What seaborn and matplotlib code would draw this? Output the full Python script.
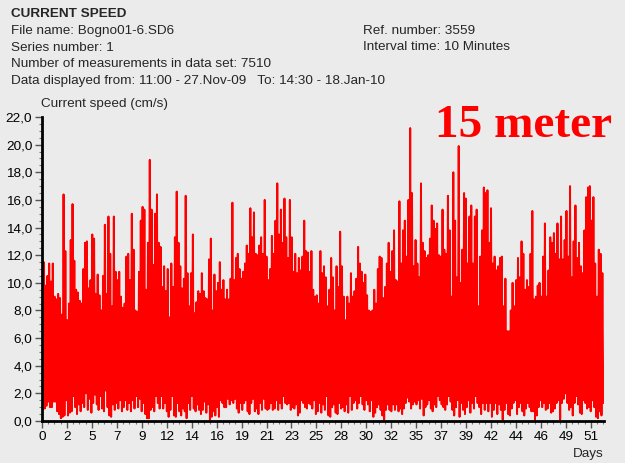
import numpy as np
import pandas as pd
import seaborn as sns
import matplotlib
matplotlib.use('Agg')
import matplotlib.pyplot as plt
from matplotlib.ticker import AutoMinorLocator, FixedLocator, FuncFormatter

# current speed (cm/s): one peak and one trough for every 4 hours
highs = [
    11.5, 11.5, 9.8, 10.5, 11.4, 10.1, 11.4, 9.0, 8.8, 9.2,
    8.9, 7.7, 16.4, 12.3, 7.3, 8.5, 13.1, 15.7, 11.6, 9.5,
    9.3, 8.7, 8.5, 11.0, 12.9, 13.0, 9.6, 10.2, 13.5, 13.2,
    9.2, 10.6, 9.1, 8.0, 10.5, 14.2, 9.2, 14.8, 12.1, 8.3,
    14.8, 10.8, 10.2, 10.8, 9.0, 8.2, 8.5, 11.9, 12.1, 10.2,
    15.0, 12.4, 8.0, 7.9, 10.8, 14.5, 15.5, 15.3, 9.5, 12.9,
    18.9, 15.3, 11.3, 15.0, 16.4, 12.9, 12.6, 9.7, 11.2, 9.4,
    11.0, 7.5, 11.4, 9.7, 13.3, 16.6, 12.9, 11.2, 9.6, 10.3,
    16.3, 10.7, 8.3, 10.7, 13.5, 7.8, 8.6, 9.4, 9.2, 10.7,
    9.4, 8.9, 8.8, 11.7, 13.2, 8.0, 10.6, 9.4, 10.0, 11.5,
    9.5, 10.2, 8.8, 9.5, 8.8, 10.3, 15.8, 10.2, 11.8, 12.1,
    11.0, 10.3, 10.8, 11.4, 12.7, 12.1, 15.4, 13.3, 15.1, 12.1,
    12.0, 12.7, 13.3, 12.1, 16.0, 11.9, 10.2, 11.0, 13.4, 12.1,
    14.5, 17.2, 13.5, 15.3, 12.9, 16.1, 13.3, 11.8, 16.0, 13.3,
    10.8, 12.1, 10.7, 11.8, 10.9, 11.9, 14.5, 12.3, 12.2, 10.8,
    12.3, 9.5, 9.0, 9.1, 8.5, 12.3, 10.7, 11.2, 10.4, 8.3,
    9.5, 11.8, 10.4, 8.0, 11.2, 9.7, 13.7, 11.2, 9.0, 7.3,
    9.0, 8.5, 10.7, 9.0, 9.4, 10.3, 12.6, 11.4, 10.8, 10.0,
    10.6, 9.1, 8.0, 7.9, 8.0, 9.5, 8.5, 11.0, 11.9, 11.8,
    8.9, 9.7, 11.4, 12.9, 10.8, 12.3, 13.8, 10.2, 10.1, 15.9,
    11.4, 13.8, 14.5, 11.9, 16.0, 21.2, 16.5, 11.2, 13.1, 11.4,
    10.4, 17.2, 12.9, 12.3, 11.8, 12.0, 13.2, 15.6, 14.5, 13.9,
    14.3, 12.0, 11.9, 15.3, 12.4, 12.1, 16.3, 13.8, 9.0, 18.0,
    14.5, 10.4, 19.9, 10.0, 12.4, 16.5, 16.1, 11.4, 14.8, 15.6,
    11.4, 14.8, 15.3, 8.3, 11.9, 13.8, 16.9, 16.5, 16.7, 12.9,
    15.4, 11.4, 11.9, 10.9, 11.2, 11.8, 11.9, 8.3, 10.3, 6.5,
    6.5, 8.0, 10.0, 8.3, 10.2, 11.8, 10.4, 13.0, 12.1, 9.5,
    10.2, 9.7, 12.1, 15.2, 8.8, 9.0, 9.8, 10.0, 9.0, 11.9,
    14.3, 9.0, 10.9, 13.3, 12.9, 13.6, 12.1, 14.3, 11.7, 14.8,
    11.7, 13.1, 15.2, 11.9, 17.0, 10.4, 13.0, 15.6, 11.8, 12.9,
    11.2, 10.7, 13.8, 16.2, 16.9, 17.0, 14.5, 16.2, 11.4, 9.0,
    12.4, 12.1, 10.7,
]
lows = [
    0.9, 0.9, 1.1, 1.4, 1.0, 1.0, 1.4, 1.4, 0.7, 0.5,
    0.2, 0.3, 0.4, 1.5, 0.4, 0.6, 0.7, 1.8, 1.0, 0.5,
    1.2, 0.7, 1.3, 1.0, 2.0, 0.8, 1.6, 0.6, 1.3, 1.9,
    1.2, 0.8, 1.8, 0.9, 0.7, 2.2, 1.0, 0.4, 0.3, 1.2,
    0.8, 1.3, 0.9, 1.5, 0.7, 1.0, 1.5, 0.8, 1.3, 0.7,
    1.5, 0.9, 1.8, 1.0, 1.6, 0.7, 1.3, 0.5, 0.2, 0.2,
    0.8, 1.0, 0.7, 1.8, 1.3, 0.9, 1.8, 0.9, 1.3, 0.7,
    0.3, 0.8, 1.8, 0.4, 0.3, 1.3, 0.7, 0.4, 0.9, 0.7,
    0.2, 1.3, 0.8, 1.8, 0.9, 0.7, 1.2, 0.8, 0.5, 0.8,
    1.4, 0.6, 1.2, 0.1, 0.3, 0.7, 0.4, 1.0, 0.3, 1.5,
    1.3, 1.0, 1.0, 1.6, 1.2, 1.5, 1.3, 1.6, 0.9, 0.6,
    1.3, 0.8, 1.3, 1.5, 0.7, 0.5, 1.3, 1.6, 0.7, 0.9,
    0.5, 1.3, 0.8, 1.6, 0.9, 0.8, 0.9, 1.3, 0.8, 0.9,
    1.5, 0.8, 1.3, 0.9, 1.8, 1.3, 1.2, 1.3, 0.8, 1.0,
    0.9, 1.2, 0.4, 0.6, 1.5, 1.3, 1.0, 0.9, 1.3, 1.2,
    0.9, 1.5, 0.5, 0.7, 1.3, 0.6, 1.2, 0.8, 1.8, 0.4,
    0.3, 1.0, 1.2, 0.6, 0.5, 1.3, 0.9, 1.0, 0.7, 1.2,
    0.6, 1.8, 0.8, 1.3, 1.5, 0.9, 1.3, 1.8, 1.2, 0.8,
    1.5, 1.2, 0.7, 1.5, 0.3, 0.6, 1.0, 1.2, 0.8, 0.4,
    0.1, 0.8, 1.2, 0.8, 0.7, 1.2, 0.8, 1.2, 0.7, 0.9,
    0.5, 0.9, 1.3, 1.7, 1.4, 0.9, 1.2, 1.4, 1.2, 1.5,
    0.9, 1.6, 0.4, 1.0, 1.2, 1.5, 0.9, 0.7, 1.2, 1.0,
    1.8, 1.5, 1.2, 1.0, 0.8, 1.2, 1.8, 1.4, 0.8, 0.4,
    1.0, 1.5, 0.3, 1.3, 0.8, 0.5, 1.0, 1.5, 0.6, 1.3,
    0.9, 1.8, 1.3, 1.0, 0.5, 1.3, 0.8, 1.3, 0.7, 1.3,
    0.3, 0.8, 1.3, 0.5, 1.2, 0.8, 0.1, 0.8, 1.3, 0.5,
    0.4, 0.9, 1.3, 1.5, 0.5, 1.0, 1.3, 0.7, 0.4, 0.9,
    1.3, 1.0, 0.7, 0.7, 0.1, 0.4, 1.0, 1.5, 1.0, 1.3,
    0.8, 0.9, 1.3, 0.6, 0.7, 0.9, 1.3, 1.5, 0.1, 1.3,
    1.6, 2.0, 1.3, 0.8, 1.0, 0.4, 1.3, 1.8, 1.2, 0.6,
    0.5, 1.5, 1.3, 0.9, 1.0, 0.7, 1.5, 1.0, 0.3, 0.2,
    0.7, 0.4, 1.3,
]
day_labels = ['0', '2', '5', '7', '9', '12', '14', '16', '19', '21', '23', '25',
              '28', '30', '32', '35', '37', '39', '42', '44', '46', '49', '51']
speed_ticks = [0, 2, 4, 6, 8, 10, 12, 14, 16, 18, 20, 22]

header_left = ['File name: Bogno01-6.SD6',
               'Series number: 1',
               'Number of measurements in data set: 7510',
               'Data displayed from: 11:00 - 27.Nov-09   To: 14:30 - 18.Jan-10']
header_right = ['Ref. number: 3559', 'Interval time: 10 Minutes']

bg = '#ebebeb'
sns.set_theme(style='ticks', rc={'figure.facecolor': bg, 'axes.facecolor': bg})
plt.rcParams['font.family'] = ['Liberation Sans', 'DejaVu Sans']
fs = 9.7

# peaks and troughs alternate, two hours apart
speed = []
for h, l in zip(highs, lows):
    speed += [h, l]
df = pd.DataFrame({'day': np.arange(len(speed)) / 12, 'speed': speed})

fig = plt.figure(figsize=(6.25, 4.63), dpi=100)
ax = fig.add_axes([42 / 625, 42 / 463, 562 / 625, 304 / 463])
sns.lineplot(data=df, x='day', y='speed', color='red', linewidth=1.4,
             estimator=None, ax=ax)

ax.set_xlim(0, 52.15)
ax.set_ylim(0, 22)
ax.set_xlabel('')
ax.set_ylabel('')

step = 2.315
ax.xaxis.set_major_locator(FixedLocator([i * step for i in range(len(day_labels))]))
ax.set_xticklabels(day_labels)
ax.xaxis.set_minor_locator(AutoMinorLocator(4))
ax.set_yticks(speed_ticks)
ax.yaxis.set_major_formatter(FuncFormatter(lambda v, p: f'{v:.1f}'.replace('.', ',')))
ax.yaxis.set_minor_locator(AutoMinorLocator(4))
ax.tick_params(which='major', length=5, width=1, color='#555555', labelsize=fs,
               labelcolor='black', pad=2)
ax.tick_params(which='minor', length=2.5, width=0.8, color='#777777')

for side in ['top', 'right']:
    ax.spines[side].set_visible(False)
for side in ['left', 'bottom']:
    ax.spines[side].set_linewidth(2)
    ax.spines[side].set_color('black')

fig.text(11 / 625, 1 - 14 / 463, 'CURRENT SPEED', fontsize=fs, fontweight='bold', va='center')
for i, line in enumerate(header_left):
    fig.text(11 / 625, 1 - (31 + i * 16.6) / 463, line, fontsize=fs, va='center')
for i, line in enumerate(header_right):
    fig.text(363 / 625, 1 - (31 + i * 16.5) / 463, line, fontsize=fs, va='center')

fig.text(41 / 625, 1 - 104 / 463, 'Current speed (cm/s)', fontsize=fs, va='center')
fig.text(573 / 625, 1 - 454 / 463, 'Days', fontsize=fs, va='center')
fig.text(435 / 625, 1 - 137 / 463, '15 meter', color='red', fontsize=34,
         fontweight='bold', family='Liberation Serif', va='baseline')

fig.savefig('out.png', dpi=100, facecolor=fig.get_facecolor())
